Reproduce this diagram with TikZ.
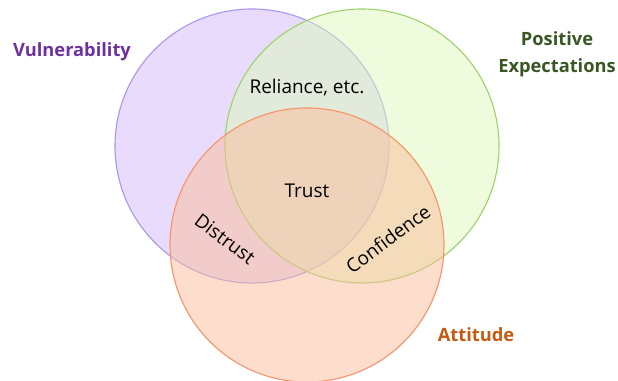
\documentclass[tikz,border=0pt]{standalone}
\usepackage{fontspec}
\setmainfont{Open Sans}
\usepackage{tikz}
\definecolor{vulnfill}{RGB}{209,183,247}
\definecolor{vulnline}{RGB}{168,152,238}
\definecolor{vulntext}{RGB}{112,48,160}
\definecolor{posfill}{RGB}{221,249,187}
\definecolor{posline}{RGB}{158,211,107}
\definecolor{postext}{RGB}{56,87,35}
\definecolor{attfill}{RGB}{251,189,155}
\definecolor{attline}{RGB}{245,149,107}
\definecolor{atttext}{RGB}{197,90,17}
\tikzset{
  setcirc/.style={fill opacity=0.5, line width=0.8pt},
  outer/.style={font=\fontsize{13}{19}\selectfont\bfseries, align=center},
  inner/.style={font=\fontsize{13.5}{16}\selectfont}
}

\begin{document}
\begin{tikzpicture}[x=0.025cm, y=0.025cm]
        \useasboundingbox (0,0) rectangle (618,381);
        \draw[setcirc, fill=vulnfill, draw=vulnline] (252,235) circle (137);
        \draw[setcirc, fill=posfill, draw=posline] (362,235) circle (137);
        \draw[setcirc, fill=attfill, draw=attline] (307,136) circle (137);
        % set names
        \node[outer, text=vulntext] (vuln) at (72,329) {Vulnerability};
        \node[outer, text=postext] (pos) at (557,327) {Positive\\Expectations};
        \node[outer, text=atttext] (att) at (476,46) {Attitude};
        % overlaps
        \node[inner] (reli) at (307,293) {Reliance, etc.};
        \node[inner] (trust) at (307,190) {Trust};
        \node[inner, rotate=-37] (distr) at (225,142) {Distrust};
        \node[inner, rotate=37] (conf) at (388,142) {Confidence};
    \end{tikzpicture}
\end{document}
